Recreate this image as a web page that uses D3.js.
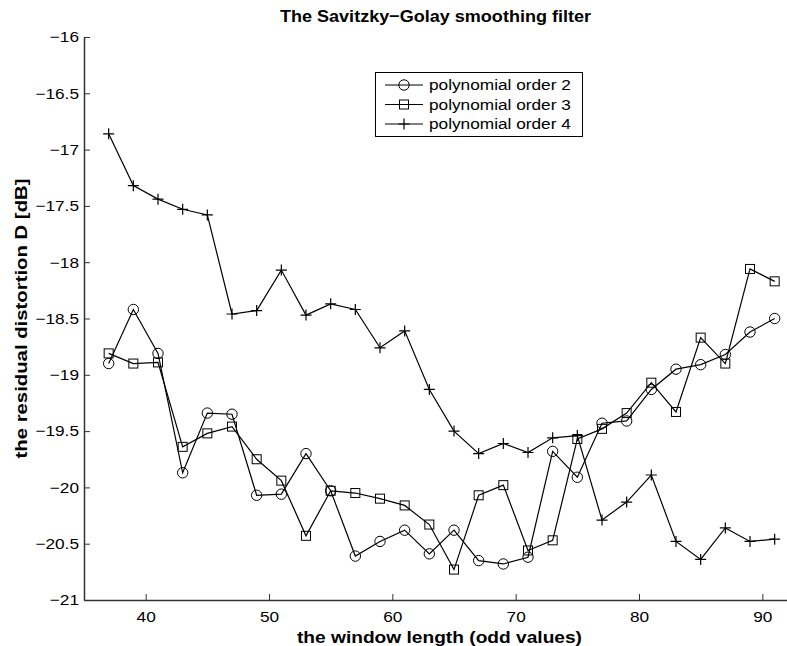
<!DOCTYPE html>
<html>
<head>
<meta charset="utf-8">
<script src="https://cdn.jsdelivr.net/npm/d3@7"></script>
<style>
  html, body { margin: 0; padding: 0; background: #fff; }
  svg { display: block; font-family: "Liberation Sans", Arial, Helvetica, sans-serif; }
</style>
</head>
<body>
<svg id="chart" width="787" height="646"></svg>
<script>
// Window lengths (odd values) and residual distortion per polynomial order
const windowLengths = [37, 39, 41, 43, 45, 47, 49, 51, 53, 55, 57, 59, 61, 63, 65, 67, 69, 71, 73, 75, 77, 79, 81, 83, 85, 87, 89, 91];
const order2 = [-18.90, -18.42, -18.81, -19.87, -19.34, -19.35, -20.07, -20.06, -19.70, -20.03, -20.61, -20.48, -20.38, -20.59, -20.38, -20.65, -20.68, -20.62, -19.68, -19.91, -19.43, -19.41, -19.13, -18.95, -18.91, -18.82, -18.62, -18.50];
const order3 = [-18.81, -18.90, -18.89, -19.64, -19.52, -19.46, -19.75, -19.94, -20.43, -20.03, -20.05, -20.10, -20.16, -20.33, -20.73, -20.07, -19.98, -20.56, -20.47, -19.57, -19.48, -19.34, -19.07, -19.33, -18.67, -18.90, -18.06, -18.17];
const order4 = [-16.86, -17.32, -17.44, -17.53, -17.58, -18.46, -18.43, -18.07, -18.47, -18.37, -18.42, -18.76, -18.61, -19.13, -19.50, -19.70, -19.61, -19.69, -19.56, -19.54, -20.29, -20.13, -19.89, -20.48, -20.64, -20.36, -20.48, -20.46];
const seriesNames = ["polynomial order 2", "polynomial order 3", "polynomial order 4"];
const seriesMarkers = ["circle", "square", "plus"];
const xTicks = [40, 50, 60, 70, 80, 90];
const yTicks = [-21, -20.5, -20, -19.5, -19, -18.5, -18, -17.5, -17, -16.5, -16];

const svg = d3.select("#chart");
const W = 787, H = 646;
const SX = 1.15; // horizontal widening of the Helvetica-style lettering

const x = d3.scaleLinear().domain([35, 92]).range([84, 787]);
const y = d3.scaleLinear().domain([-21, -16]).range([600, 37]);

const fmt = v => String(v).replace("-", "\u2212");

// axes (ticks pointing into the plot)
const xAxis = svg.append("g")
  .attr("transform", `translate(0,${y(-21)})`)
  .call(d3.axisBottom(x).tickValues(xTicks).tickSizeInner(-6).tickSizeOuter(0).tickPadding(11).tickFormat(d => d));
const yAxis = svg.append("g")
  .attr("transform", `translate(${x(35)},0)`)
  .call(d3.axisLeft(y).tickValues(yTicks).tickSizeInner(-6).tickSizeOuter(0).tickPadding(5).tickFormat(fmt));

[xAxis, yAxis].forEach(g => {
  g.select(".domain").attr("stroke", "#333").attr("stroke-width", 1.5);
  g.selectAll(".tick line").attr("stroke", "#333").attr("stroke-width", 1);
  g.selectAll(".tick text").attr("fill", "#000").style("font-size", "15px")
    .style("font-family", "Liberation Sans, Arial, sans-serif")
    .attr("transform", `scale(${SX},1)`);
});
yAxis.selectAll(".tick text").attr("x", -5 / SX);

// titles
svg.append("text").attr("x", (x(35) + x(92)) / 2).attr("y", 22)
  .attr("text-anchor", "middle").style("font-weight", "bold").style("font-size", "17px")
  .attr("textLength", 311).attr("lengthAdjust", "spacingAndGlyphs")
  .text("The Savitzky\u2212Golay smoothing filter");
svg.append("text").attr("x", (x(35) + x(92)) / 2 + 4).attr("y", 643)
  .attr("text-anchor", "middle").style("font-weight", "bold").style("font-size", "17px")
  .attr("textLength", 285).attr("lengthAdjust", "spacingAndGlyphs")
  .text("the window length (odd values)");
svg.append("text").attr("transform", `translate(27,${(y(-16) + y(-21)) / 2}) rotate(-90)`)
  .attr("text-anchor", "middle").style("font-weight", "bold").style("font-size", "17px")
  .attr("textLength", 280).attr("lengthAdjust", "spacingAndGlyphs")
  .text("the residual distortion D [dB]");

function drawMarker(g, type, cx, cy) {
  if (type === "circle") {
    g.append("circle").attr("cx", cx).attr("cy", cy).attr("r", 5.2)
      .attr("fill", "none").attr("stroke", "#000").attr("stroke-width", 1);
  } else if (type === "square") {
    g.append("rect").attr("x", cx - 4.5).attr("y", cy - 4.5).attr("width", 9).attr("height", 9)
      .attr("fill", "none").attr("stroke", "#000").attr("stroke-width", 1);
  } else {
    g.append("path").attr("d", `M${cx - 5.5},${cy}H${cx + 5.5}M${cx},${cy - 5.5}V${cy + 5.5}`)
      .attr("stroke", "#000").attr("stroke-width", 1.2);
  }
}

const allSeries = [order2, order3, order4];
const line = d3.line().x(d => x(d[0])).y(d => y(d[1]));

allSeries.forEach((vals, i) => {
  const pts = windowLengths.map((w, j) => [w, vals[j]]);
  const g = svg.append("g");
  g.append("path").attr("d", line(pts)).attr("fill", "none").attr("stroke", "#000").attr("stroke-width", 1.2);
  pts.forEach(p => drawMarker(g, seriesMarkers[i], x(p[0]), y(p[1])));
});

// legend
const leg = svg.append("g");
leg.append("rect").attr("x", 375.5).attr("y", 72.5).attr("width", 207).attr("height", 64)
  .attr("fill", "#fff").attr("stroke", "#000").attr("stroke-width", 1);
seriesNames.forEach((name, i) => {
  const ly = 85 + i * 19.5;
  leg.append("line").attr("x1", 385).attr("x2", 423).attr("y1", ly).attr("y2", ly)
    .attr("stroke", "#000").attr("stroke-width", 1.2);
  drawMarker(leg, seriesMarkers[i], 404, ly);
  leg.append("text").attr("x", 429 / SX).attr("y", ly + 5.5)
    .attr("transform", `scale(${SX},1)`).style("font-size", "15px").text(name);
});
</script>
</body>
</html>
